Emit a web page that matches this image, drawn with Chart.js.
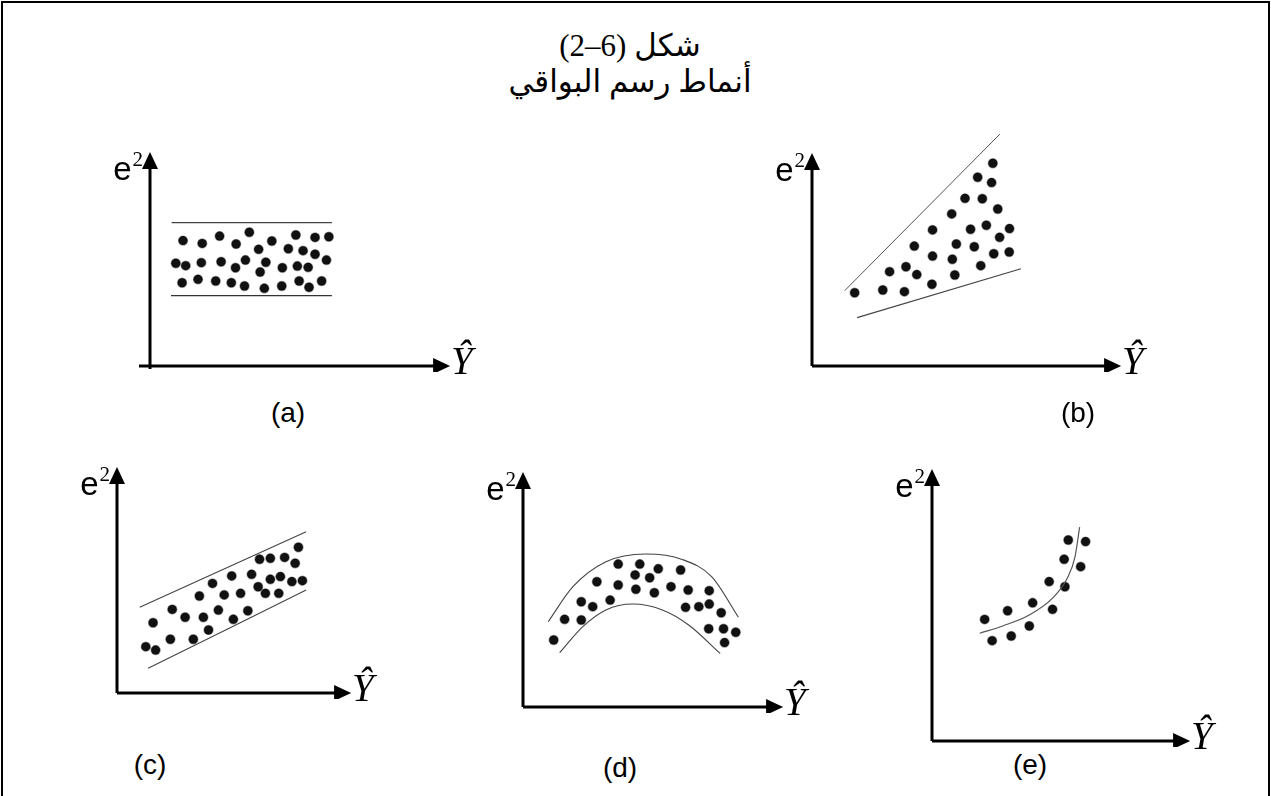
<!DOCTYPE html>
<html lang="ar">
<head>
<meta charset="utf-8">
<title>أنماط رسم البواقي</title>
<script src="https://cdn.jsdelivr.net/npm/chart.js@4.4.0/dist/chart.umd.min.js"></script>
<style>
  body { margin: 0; background: #fff; }
  #page { position: relative; width: 1271px; height: 796px; overflow: hidden; font-family: "Liberation Sans", Arial, sans-serif; color: #000; }
  #frame { position: absolute; left: 1px; top: 1px; width: 1265px; height: 820px; border: 2px solid #000; border-bottom: none; }
  .head { position: absolute; left: 0; width: 1260px; text-align: center; font-family: "Liberation Serif", "DejaVu Sans", serif; font-size: 31px; line-height: 36px; }
  #t1 { top: 28px; }
  #t2 { top: 64px; }
  canvas { position: absolute; }
  .e2 { position: absolute; font-size: 33px; line-height: 30px; white-space: nowrap; }
  .e2 sup { font-family: "Liberation Serif", serif; font-size: 21px; vertical-align: 14px; line-height: 0; margin-left: 1px; }
  .yhat { position: absolute; font-family: "Liberation Serif", serif; font-style: italic; font-size: 39px; line-height: 38px; }
  .cap { position: absolute; font-size: 28px; line-height: 30px; transform: translate(-50%, -50%); }
</style>
</head>
<body>
<div id="page">
  <div id="frame"></div>
  <div class="head" id="t1" dir="rtl">شكل (6–2)</div>
  <div class="head" id="t2" dir="rtl">أنماط رسم البواقي</div>
</div>
<script>
// (a) constant spread
const aDotX = [11.0, 17.4, 23.2, 28.7, 33.1, 40.6, 48.6, 55.0, 59.6, 36.2, 46.1, 51.0, 55.0,
  8.6, 11.9, 17.1, 23.7, 28.5, 31.8, 38.6, 36.7, 44.1, 49.1, 52.7, 58.8,
  10.7, 16.0, 21.9, 27.1, 31.5, 38.1, 43.9, 49.7, 53.0, 57.2];
const aDotY = [58.6, 57.3, 60.7, 57.0, 62.5, 58.4, 61.2, 60.1, 60.4, 54.5, 54.8, 53.9, 52.2,
  48.0, 46.9, 48.3, 48.7, 45.9, 49.5, 48.5, 43.9, 45.9, 46.7, 46.1, 49.5,
  38.9, 40.5, 39.7, 38.9, 37.4, 36.3, 37.4, 39.7, 36.8, 39.7];
const aUpperX = [7.2, 60.6], aUpperY = [67.0, 67.0];
const aLowerX = [7.0, 60.6], aLowerY = [32.9, 32.9];

// (b) widening spread
const bDotX = [13.8, 22.9, 29.9, 25.1, 30.4, 33.9, 33.1, 38.8, 39.0, 39.0, 45.2, 45.4, 46.2, 46.7,
  49.5, 51.3, 52.5, 53.6, 55.1, 54.6, 56.4, 58.1, 58.5, 60.1, 60.7, 58.8, 63.9, 63.8];
const bDotY = [34.4, 35.7, 34.9, 44.3, 46.6, 42.9, 56.3, 38.4, 51.6, 63.9, 71.4, 50.1, 42.7, 57.3,
  78.7, 64.2, 56.0, 88.6, 78.5, 47.1, 66.1, 86.1, 95.2, 73.7, 60.4, 52.7, 64.5, 53.5];
const bUpperX = [10.6, 60.8], bUpperY = [35.4, 108.9];
const bLowerX = [14.6, 67.6], bLowerY = [22.7, 45.7];

// (c) linear trend
const cDotX = [12.3, 16.5, 15.4, 22.8, 23.6, 29.1, 32.6, 35.2, 36.9, 39.1, 40.8, 43.3, 45.8, 49.0, 49.7,
  52.8, 55.9, 57.5, 60.3, 60.9, 63.4, 65.5, 65.5, 69.1, 69.8, 71.6, 74.7, 76.1, 77.5, 79.2];
const cDotY = [20.5, 19.0, 31.1, 23.8, 37.0, 33.5, 23.8, 42.9, 33.5, 27.9, 48.5, 36.7, 43.4, 51.8, 32.6,
  44.1, 36.4, 52.5, 47.0, 59.2, 44.1, 50.3, 59.6, 44.1, 51.5, 60.0, 49.3, 57.4, 64.5, 49.7];
const cUpperX = [9.7, 80.8], cUpperY = [37.9, 71.4];
const cLowerX = [13.3, 80.8], cLowerY = [10.9, 45.6];

// (d) arch
const dDotX = [11.8, 16.0, 22.4, 22.4, 26.8, 33.5, 28.4, 36.6, 36.6, 43.1, 43.4, 44.9, 48.7, 50.5,
  52.0, 56.9, 60.6, 63.5, 62.5, 67.6, 71.6, 71.6, 76.2, 71.4, 77.1, 81.8, 77.5];
const dDotY = [28.5, 37.3, 37.0, 44.8, 42.7, 45.5, 53.3, 60.8, 51.9, 56.2, 50.1, 60.8, 55.0, 48.6,
  58.8, 51.2, 58.3, 49.8, 42.4, 42.7, 49.5, 43.8, 40.1, 33.3, 33.3, 31.8, 27.4];
const dUpperX = [9.7, 19.2, 31.9, 47.2, 61.2, 72.6, 82.8];
const dUpperY = [36.3, 51.2, 61.8, 65.1, 62.8, 55.4, 38.2];
const dLowerX = [14.1, 23.0, 31.9, 42.1, 53.6, 63.7, 75.8];
const dLowerY = [23.1, 34.2, 41.3, 43.8, 41.3, 34.9, 22.8];

// (e) rising curve
const eDotX = [20.4, 23.3, 29.3, 30.7, 37.7, 39.0, 46.7, 45.4, 51.5, 51.2, 57.6, 52.8, 59.5];
const eDotY = [44.7, 36.9, 47.9, 38.6, 42.3, 50.8, 48.4, 58.6, 56.7, 66.8, 64.1, 73.9, 73.3];
const eCurveX = [18.5, 27.4, 37.7, 46.7, 52.4, 55.4, 57.2];
const eCurveY = [39.6, 42.3, 46.3, 52.5, 59.8, 67.7, 78.6];

// where each small plot sits on the page: axis origin (ox, oy), arrow tips (tx, ty)
const layout = {
  a: { ox: 150, oy: 366, tx: 452, ty: 152, overX: 11, overY: 3, cap: [288, 413] },
  b: { ox: 812, oy: 366, tx: 1123, ty: 153, overX: 0, overY: 0, cap: [1078, 413] },
  c: { ox: 117, oy: 693, tx: 353, ty: 467, overX: 0, overY: 0, cap: [150, 765] },
  d: { ox: 523, oy: 707, tx: 785, ty: 472, overX: 0, overY: 0, cap: [620, 768] },
  e: { ox: 932, oy: 741, tx: 1192, ty: 469, overX: 0, overY: 0, cap: [1030, 765] }
};

const zip = (xs, ys) => xs.map((x, i) => ({ x: x, y: ys[i] }));

function dots(xs, ys) {
  return {
    data: zip(xs, ys), pointRadius: 4.5, pointBackgroundColor: '#111',
    pointBorderColor: 'rgba(0,0,0,0.4)', pointBorderWidth: 1.4, showLine: false, clip: false
  };
}
function line(xs, ys, color, width) {
  return {
    data: zip(xs, ys), showLine: true, pointRadius: 0, borderColor: color,
    borderWidth: width, cubicInterpolationMode: 'monotone', clip: false
  };
}

// black axes with arrow heads, drawn from the scale origin
const arrowAxes = {
  id: 'arrowAxes',
  afterDatasetsDraw(chart, args, opts) {
    const ctx = chart.ctx, xs = chart.scales.x, ys = chart.scales.y;
    const x0 = xs.getPixelForValue(0), y0 = ys.getPixelForValue(0);
    const x1 = xs.getPixelForValue(100), y1 = ys.getPixelForValue(100);
    const len = 17, half = 8;
    ctx.save();
    ctx.strokeStyle = '#000';
    ctx.fillStyle = '#000';
    ctx.lineWidth = 3;
    ctx.beginPath();
    ctx.moveTo(x0 - opts.overX, y0);
    ctx.lineTo(x1 - len + 1, y0);
    ctx.moveTo(x0, y0 + opts.overY);
    ctx.lineTo(x0, y1 + len - 1);
    ctx.stroke();
    ctx.beginPath();
    ctx.moveTo(x1, y0);
    ctx.lineTo(x1 - len, y0 - half);
    ctx.lineTo(x1 - len, y0 + half);
    ctx.closePath();
    ctx.moveTo(x0, y1);
    ctx.lineTo(x0 - half, y1 + len);
    ctx.lineTo(x0 + half, y1 + len);
    ctx.closePath();
    ctx.fill();
    ctx.restore();
  }
};

const page = document.getElementById('page');

function addText(cls, html, css) {
  const el = document.createElement('div');
  el.className = cls;
  el.innerHTML = html;
  Object.assign(el.style, css);
  page.appendChild(el);
}

function buildPanel(key, datasets, caption) {
  const p = layout[key];
  const padL = 16, padR = 4, padT = 26, padB = 6;
  const cv = document.createElement('canvas');
  cv.width = (p.tx - p.ox) + padL + padR;
  cv.height = (p.oy - p.ty) + padT + padB;
  cv.style.left = (p.ox - padL) + 'px';
  cv.style.top = (p.ty - padT) + 'px';
  page.appendChild(cv);

  new Chart(cv, {
    type: 'scatter',
    data: { datasets: datasets },
    options: {
      responsive: false,
      animation: false,
      events: [],
      layout: { padding: { left: padL, right: padR, top: padT, bottom: padB } },
      scales: {
        x: { type: 'linear', min: 0, max: 100, display: false },
        y: { type: 'linear', min: 0, max: 100, display: false }
      },
      plugins: {
        legend: { display: false },
        tooltip: { enabled: false },
        arrowAxes: { overX: p.overX, overY: p.overY }
      }
    },
    plugins: [arrowAxes]
  });

  addText('e2', 'e<sup>2</sup>', { right: (1271 - p.ox + 7) + 'px', top: (p.ty + 2) + 'px' });
  addText('yhat', '\u0176', { left: (p.tx - 1) + 'px', top: (p.oy - 24) + 'px' });
  addText('cap', caption, { left: p.cap[0] + 'px', top: p.cap[1] + 'px' });
}

buildPanel('a', [
  line(aUpperX, aUpperY, '#444', 1.3),
  line(aLowerX, aLowerY, '#333', 1.3),
  dots(aDotX, aDotY)
], '(a)');

buildPanel('b', [
  line(bUpperX, bUpperY, '#555', 1),
  line(bLowerX, bLowerY, '#444', 1.1),
  dots(bDotX, bDotY)
], '(b)');

buildPanel('c', [
  line(cUpperX, cUpperY, '#444', 1.1),
  line(cLowerX, cLowerY, '#444', 1.1),
  dots(cDotX, cDotY)
], '(c)');

buildPanel('d', [
  line(dUpperX, dUpperY, '#444', 1.1),
  line(dLowerX, dLowerY, '#444', 1.1),
  dots(dDotX, dDotY)
], '(d)');

buildPanel('e', [
  line(eCurveX, eCurveY, '#555', 1.2),
  dots(eDotX, eDotY)
], '(e)');
</script>
</body>
</html>
